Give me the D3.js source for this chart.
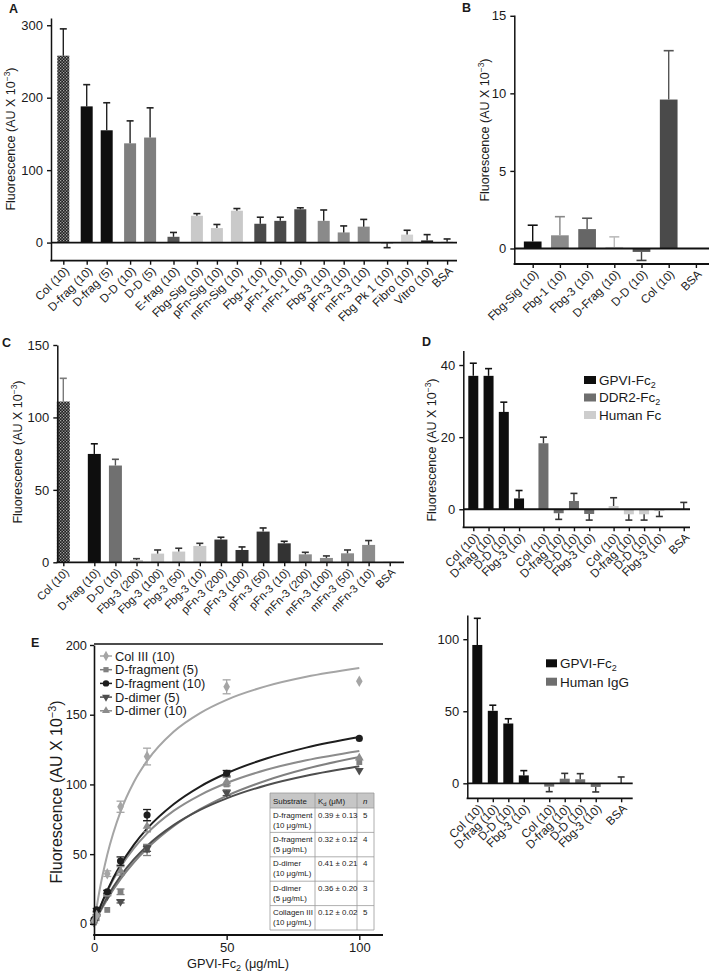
<!DOCTYPE html>
<html><head><meta charset="utf-8">
<script src="https://cdn.jsdelivr.net/npm/d3@7"></script>
<style>
body{margin:0;background:#fff}
svg{display:block}
text{font-family:"Liberation Sans",Arial,Helvetica,sans-serif;fill:#1a1a1a}
</style>
</head><body>
<svg id="c" width="709" height="974"></svg>
<script>
// ---------- Panel A data ----------
const aCategories = ["Col (10)","D-frag (10)","D-frag (5)","D-D (10)","D-D (5)","E-frag (10)","Fbg-Sig (10)","pFn-Sig (10)","mFn-Sig (10)","Fbg-1 (10)","pFn-1 (10)","mFn-1 (10)","Fbg-3 (10)","pFn-3 (10)","mFn-3 (10)","Fbg Pk 1 (10)","Fibro (10)","Vitro (10)","BSA"];
const aGroups = [0,1,1,2,2,3,4,4,4,5,5,5,6,6,6,7,7,7,7];
const aValues = [258,188,155,137,145,8,37,20,44,26,30,46,30,14,22,-1,11,3,1];
const aErrors = [37,30,38,31,41,6,3,5,3,9,5,2,15,9,10,6,6,8,4];
const aTicks = [0,100,200,300];
// ---------- Panel B data ----------
const bCategories = ["Fbg-Sig (10)","Fbg-1 (10)","Fbg-3 (10)","D-Frag (10)","D-D (10)","Col (10)","BSA"];
const bGroups = [0,0,0,0,0,0,0];
const bValues = [0.45,0.85,1.25,0.1,-0.22,9.6,0];
const bErrors = [1.05,1.2,0.7,0.65,0.55,3.15,0];
const bTicks = [0,5,10,15];
// ---------- Panel C data ----------
const cCategories = ["Col (10)","D-frag (10)","D-D (10)","Fbg-3 (200)","Fbg-3 (100)","Fbg-3 (50)","Fbg-3 (10)","pFn-3 (200)","pFn-3 (100)","pFn-3 (50)","pFn-3 (10)","mFn-3 (200)","mFn-3 (100)","mFn-3 (50)","mFn-3 (10)","BSA"];
const cGroups = [0,1,1,1,1,1,1,1,1,1,1,1,1,1,1,1];
const cValues = [111,74.8,66.8,1.6,6,7.4,11.3,15.7,8.5,21.2,13.1,5.5,3,6.2,12,0.3];
const cErrors = [16,7,4.3,0.9,2.5,2.3,1.8,1.6,2.1,2.5,1.4,1.4,1.4,2.3,3,0];
const cTicks = [0,50,100,150];
// ---------- Panel D (top) data ----------
const dCategories = ["Col (10)","D-frag (10)","D-D (10)","Fbg-3 (10)","Col (10)","D-frag (10)","D-D (10)","Fbg-3 (10)","Col (10)","D-frag (10)","D-D (10)","Fbg-3 (10)","BSA"];
const dGroups = [0,0,0,0,1,1,1,1,2,2,2,2,3];
const dSeries = ["GPVI-Fc","DDR2-Fc","Human Fc"];
const dValues = [37,37,27,3,18.3,-1.1,2.3,-1.3,0.9,-1.4,-1.4,-0.5,0];
const dErrors = [3.5,2,2.7,2.2,1.7,1.7,2.1,1.7,2.3,1.6,1.6,1.5,1.9];
const dTicks = [0,20,40];
// ---------- Panel D (bottom) data ----------
const fCategories = ["Col (10)","D-frag (10)","D-D (10)","Fbg-3 (10)","Col (10)","D-frag (10)","D-D (10)","Fbg-3 (10)","BSA"];
const fGroups = [0,0,0,0,1,1,1,1,2];
const fSeries = ["GPVI-Fc","Human IgG"];
const fValues = [96,50.3,41.5,5.5,-2.3,3.2,2.8,-2.5,0];
const fErrors = [18.5,3.9,3.3,3.3,3.5,3.7,3.9,3.5,4.4];
const fTicks = [0,50,100];
// ---------- Panel E data ----------
const eX = [0,1,5,10,20,50,100];
const eSeries = ["Col III (10)","D-fragment (5)","D-fragment (10)","D-dimer (5)","D-dimer (10)"];
const eColIII = [2,6,36,84,120,170,174];
const eColIIIErr = [0,0,2,4,6,5,0];
const eDfrag5 = [1,4,10,23,53,100,116];
const eDfrag5Err = [0,0,0,2,4,0,0];
const eDfrag10 = [3,10,23,45,78,108,133];
const eDfrag10Err = [0,1,1,3,4,2,0];
const eDdimer5 = [1,5,20,16,54,94,110];
const eDdimer5Err = [0,0,0,1,2,2,0];
const eDdimer10 = [2,7,22,38,70,102,119];
const eDdimer10Err = [0,1,2,3,4,3,0];
const eFitX = [0,2,5,10,15,20,30,40,50,65,80,100];
const eFitColIII = [0,23.0,49.5,80.5,101.6,116.9,137.8,151.2,160.7,170.5,177.2,183.5];
const eFitDfrag5 = [0,7.5,17.7,32.1,44.0,54.0,70.0,82.2,91.8,102.8,111.2,119.6];
const eFitDfrag10 = [0,10.5,24.0,42.3,56.7,68.3,85.8,98.5,108.0,118.6,126.4,134.0];
const eFitDdimer5 = [0,8.4,19.3,34.3,46.2,55.9,70.8,81.7,90.0,99.4,106.2,113.0];
const eFitDdimer10 = [0,10.2,23.3,40.7,54.1,64.9,81.0,92.4,101.0,110.5,117.3,124.0];
const eXTicks = [0,50,100];
const eYTicks = [0,50,100,150,200];
// ---------- Table ----------
const tSubstrate = [["D-fragment","(10 μg/mL)"],["D-fragment","(5 μg/mL)"],["D-dimer","(10 μg/mL)"],["D-dimer","(5 μg/mL)"],["Collagen III","(10 μg/mL)"]];
const tKd = ["0.39 ± 0.13","0.32 ± 0.12","0.41 ± 0.21","0.36 ± 0.20","0.12 ± 0.02"];
const tN = ["5","4","4","3","5"];

// ---------- styles ----------
const aFills = ["url(#chk)","#0e0e0e","#0e0e0e","#7f7f7f","#7f7f7f","#555","#c9c9c9","#c9c9c9","#c9c9c9","#4b4b4b","#4b4b4b","#4b4b4b","#8a8a8a","#8a8a8a","#8a8a8a","#555","#d2d2d2","#1e1e1e","#888"];
const aErrCol = aFills.map(()=>"#222");
const bFills = ["#0e0e0e","#8a8a8a","#666","#d0d0d0","#555","#4a4a4a","#888"];
const bErrCol = ["#111","#888","#555","#bbb","#444","#555","#555"];
const cFills = ["url(#chk)","#0e0e0e","#707070","#c9c9c9","#c9c9c9","#c9c9c9","#c9c9c9","#333","#333","#333","#333","#8c8c8c","#8c8c8c","#8c8c8c","#8c8c8c","#888"];
const cErrCol = ["#7a7a7a","#111","#555","#444","#333","#333","#333","#222","#222","#222","#222","#333","#333","#333","#333","#333"];
const dSeriesFill = ["#0e0e0e","#6e6e6e","#cdcdcd","#888"];
const fSeriesFill = ["#0e0e0e","#6e6e6e","#888"];

const svg = d3.select("#c");
const defs = svg.append("defs");
const pat = defs.append("pattern").attr("id","chk").attr("width",3).attr("height",3).attr("patternUnits","userSpaceOnUse");
pat.append("rect").attr("width",3).attr("height",3).attr("fill","#1c1c1c");
pat.append("rect").attr("width",1.3).attr("height",1.3).attr("fill","#a5a5a5");
pat.append("rect").attr("x",1.5).attr("y",1.5).attr("width",1.3).attr("height",1.3).attr("fill","#a5a5a5");

function yTitle(x, y, size){
  const t = svg.append("text").attr("transform",`translate(${x},${y}) rotate(-90)`)
    .attr("text-anchor","middle").attr("font-size",size);
  t.append("tspan").text("Fluorescence (AU X 10");
  t.append("tspan").attr("font-size",size*0.68).attr("dy",-size*0.4).text("−3");
  t.append("tspan").attr("dy",size*0.4).text(")");
}
function letter(s,x,y){ svg.append("text").attr("x",x).attr("y",y).attr("font-size",12.5).attr("font-weight","bold").text(s); }

function barPanel(o){
  const g = svg.append("g");
  const slots = o.cats.map((c,i)=> i + o.gap*o.groups[i]);
  const x = d3.scaleLinear().domain([0,1]).range([o.x0,o.x0+o.step]);
  const y = d3.scaleLinear().domain(o.yDomain).range(o.yRange);
  const y0 = y(0);
  g.selectAll("rect.bar").data(o.values).join("rect")
    .attr("x",(d,i)=>x(slots[i])-o.barW/2).attr("width",o.barW)
    .attr("y",d=>y(Math.max(0,d))).attr("height",d=>Math.abs(y(d)-y0))
    .attr("fill",(d,i)=>o.fills[i]);
  const eg = g.append("g");
  o.values.forEach((v,i)=>{
    const e = o.errors[i]; if(!e) return;
    const end = v>=0 ? v+e : v-e;
    const cx = x(slots[i]);
    eg.append("line").attr("x1",cx).attr("x2",cx).attr("y1",y(v)).attr("y2",y(end))
      .attr("stroke",o.errCol[i]).attr("stroke-width",1.4);
    eg.append("line").attr("x1",cx-o.capW/2).attr("x2",cx+o.capW/2).attr("y1",y(end)).attr("y2",y(end))
      .attr("stroke",o.errCol[i]).attr("stroke-width",1.6);
  });
  const bottomY = y(o.yDomain[0]);
  if (o.yDomain[0] < 0){
    g.append("line").attr("x1",o.axisX).attr("x2",o.rightX).attr("y1",y0).attr("y2",y0)
      .attr("stroke","#111").attr("stroke-width",1.8);
  }
  const ya = g.append("g").attr("transform",`translate(${o.axisX},0)`)
    .call(d3.axisLeft(y).tickValues(o.ticks).tickSize(4).tickSizeOuter(0).tickPadding(4).tickFormat(d3.format("d")));
  ya.select(".domain").attr("stroke","#111").attr("stroke-width",1.5);
  ya.selectAll(".tick line").attr("stroke","#111").attr("stroke-width",1.4);
  ya.selectAll("text").attr("font-size",o.tickFont).attr("fill","#1a1a1a").style("font-family",'"Liberation Sans",Arial,sans-serif');
  g.append("line").attr("x1",o.axisX-0.7).attr("x2",o.rightX).attr("y1",bottomY).attr("y2",bottomY)
    .attr("stroke","#111").attr("stroke-width",1.8);
  const xa = g.append("g").attr("transform",`translate(0,${bottomY})`)
    .call(d3.axisBottom(x).tickValues(slots).tickSize(4).tickSizeOuter(0).tickFormat(""));
  xa.select(".domain").remove();
  xa.selectAll(".tick line").attr("stroke","#111").attr("stroke-width",1.4);
  slots.forEach((s,i)=>{
    g.append("text").attr("transform",`translate(${x(s)+3.5},${bottomY+8}) rotate(-45)`)
      .attr("text-anchor","end").attr("dy","0.35em").attr("font-size",o.labelFont).text(o.cats[i]);
  });
  return {x,y,slots};
}

// ---------- Panel A ----------
letter("A",9,13);
barPanel({cats:aCategories,groups:aGroups,values:aValues,errors:aErrors,fills:aFills,errCol:aErrCol,
  x0:63.3,step:20,gap:0.17,barW:12,capW:7,yDomain:[-25,310],yRange:[260.7,18],ticks:aTicks,
  axisX:51,rightX:457,tickFont:13,labelFont:11.8});
yTitle(15,139,12.5);

// ---------- Panel B ----------
letter("B",462,12);
barPanel({cats:bCategories,groups:bGroups,values:bValues,errors:bErrors,fills:bFills,errCol:bErrCol,
  x0:532.7,step:27.2,gap:0,barW:17.7,capW:10,yDomain:[-1,15.05],yRange:[264,15],ticks:bTicks,
  axisX:514.3,rightX:709,tickFont:13,labelFont:11.8});
yTitle(489,130,12.5);

// ---------- Panel C ----------
letter("C",2,347);
barPanel({cats:cCategories,groups:cGroups,values:cValues,errors:cErrors,fills:cFills,errCol:cErrCol,
  x0:63.3,step:21.1,gap:0.47,barW:13,capW:7,yDomain:[0,150],yRange:[562.3,345],ticks:cTicks,
  axisX:57.3,rightX:404,tickFont:13,labelFont:11.2});
yTitle(22,452,12.5);

// ---------- Panel D top ----------
letter("D",422,346);
const dFills = dGroups.map(gi=>dSeriesFill[gi]);
const dErrCol = dGroups.map(gi=>gi===0?"#111":"#333");
barPanel({cats:dCategories,groups:dGroups,values:dValues,errors:dErrors,fills:dFills,errCol:dErrCol,
  x0:473.3,step:15.25,gap:0.6,barW:10,capW:7,yDomain:[-5,44],yRange:[527.3,350.6],ticks:dTicks,
  axisX:463.3,rightX:690,tickFont:13,labelFont:11.8});
yTitle(436,450,12.5);
function legend(items, fills, x, y0, dy, sw, sh){
  items.forEach((s,i)=>{
    const cy = y0 + i*dy;
    svg.append("rect").attr("x",x).attr("y",cy-sh/2).attr("width",sw).attr("height",sh).attr("fill",fills[i]);
    const t = svg.append("text").attr("x",x+sw+3).attr("y",cy).attr("dy","0.36em").attr("font-size",13.5);
    if (s.endsWith("-Fc")){ t.append("tspan").text(s); t.append("tspan").attr("font-size",9).attr("dy",3).text("2"); }
    else t.text(s);
  });
}
legend(dSeries, dSeriesFill, 584, 380, 17.5, 12, 8);

// ---------- Panel D bottom ----------
const fFills = fGroups.map(gi=>fSeriesFill[gi]);
const fErrCol = fGroups.map(gi=>gi===0?"#111":"#333");
barPanel({cats:fCategories,groups:fGroups,values:fValues,errors:fErrors,fills:fFills,errCol:fErrCol,
  x0:477.3,step:15.5,gap:0.64,barW:10,capW:7,yDomain:[-10.4,116.8],yRange:[798.3,615],ticks:fTicks,
  axisX:467.3,rightX:632.7,tickFont:13,labelFont:11.8});
legend(fSeries, fSeriesFill, 546, 663.3, 18.4, 11, 8);

// ---------- Panel E ----------
letter("E",31,647);
const ex = d3.scaleLinear().domain([0,100]).range([94,359.3]);
const ey = d3.scaleLinear().domain([-8,200]).range([935,645]);
const eRight = 383;
const eg = svg.append("g");
eg.append("line").attr("x1",94).attr("x2",eRight).attr("y1",644).attr("y2",644).attr("stroke","#111").attr("stroke-width",1.6);
const eColors = ["#a5a5a5","#808080","#1e1e1e","#4e4e4e","#8c8c8c"];
const eSyms = [d3.symbolDiamond, d3.symbolSquare, d3.symbolCircle, d3.symbolTriangle, d3.symbolTriangle];
const eRot = [0,0,0,180,0];
const eSizes = [38,34,40,34,34];
const eData = [eColIII,eDfrag5,eDfrag10,eDdimer5,eDdimer10];
const eErr = [eColIIIErr,eDfrag5Err,eDfrag10Err,eDdimer5Err,eDdimer10Err];
const eFits = [eFitColIII,eFitDfrag5,eFitDfrag10,eFitDdimer5,eFitDdimer10];
const line = d3.line().x((d,i)=>ex(eFitX[i])).y(d=>ey(d)).curve(d3.curveMonotoneX);
const drawOrder = [1,3,4,2,0];
drawOrder.forEach(k=>{
  eg.append("path").attr("d",line(eFits[k])).attr("fill","none").attr("stroke",eColors[k]).attr("stroke-width",2);
});
drawOrder.forEach(k=>{
  eData[k].forEach((v,i)=>{
    const cx = ex(eX[i]), e = eErr[k][i];
    if (e){
      const lo = v-e, hi = v+e;
      eg.append("line").attr("x1",cx).attr("x2",cx).attr("y1",ey(lo)).attr("y2",ey(hi)).attr("stroke",eColors[k]).attr("stroke-width",1.2);
      [lo,hi].forEach(yy=>eg.append("line").attr("x1",cx-4).attr("x2",cx+4).attr("y1",ey(yy)).attr("y2",ey(yy)).attr("stroke",eColors[k]).attr("stroke-width",1.3));
    }
    eg.append("path").attr("d",d3.symbol(eSyms[k],eSizes[k])())
      .attr("transform",`translate(${cx},${ey(v)}) rotate(${eRot[k]})`).attr("fill",eColors[k]);
  });
});
const eya = eg.append("g").attr("transform","translate(94,0)")
  .call(d3.axisLeft(ey).tickValues(eYTicks).tickSize(4).tickSizeOuter(0).tickPadding(3));
eya.select(".domain").attr("stroke","#111").attr("stroke-width",1.6);
eya.selectAll(".tick line").attr("stroke","#111").attr("stroke-width",1.4);
eya.selectAll("text").attr("font-size",12.8).attr("fill","#1a1a1a").style("font-family",'"Liberation Sans",Arial,sans-serif');
eg.append("line").attr("x1",93.2).attr("x2",eRight).attr("y1",935).attr("y2",935).attr("stroke","#111").attr("stroke-width",1.8);
const exa = eg.append("g").attr("transform","translate(0,935)")
  .call(d3.axisBottom(ex).tickValues(eXTicks).tickSize(5).tickSizeOuter(0).tickPadding(3));
exa.select(".domain").remove();
exa.selectAll(".tick line").attr("stroke","#111").attr("stroke-width",1.4);
exa.selectAll("text").attr("font-size",13).attr("fill","#1a1a1a").style("font-family",'"Liberation Sans",Arial,sans-serif');
yTitle(62,792,16);
const xl = svg.append("text").attr("x",238).attr("y",968).attr("text-anchor","middle").attr("font-size",12.8);
xl.append("tspan").text("GPVI-Fc");
xl.append("tspan").attr("font-size",9).attr("dy",3).text("2");
xl.append("tspan").attr("dy",-3).text(" (μg/mL)");
eSeries.forEach((s,k)=>{
  const cy = 656 + k*13.7;
  svg.append("line").attr("x1",100).attr("x2",112).attr("y1",cy).attr("y2",cy).attr("stroke",eColors[k]).attr("stroke-width",1.5);
  svg.append("path").attr("d",d3.symbol(eSyms[k],eSizes[k]*0.8)()).attr("transform",`translate(106,${cy}) rotate(${eRot[k]})`).attr("fill",eColors[k]);
  svg.append("text").attr("x",115).attr("y",cy).attr("dy","0.36em").attr("font-size",12.8).text(s);
});
// table
const tx = 270, ty = 793, cw = [45,42,17], hh = 15, rh = 24.4;
const tg = svg.append("g");
const totW = d3.sum(cw);
tg.append("rect").attr("x",tx).attr("y",ty).attr("width",totW).attr("height",hh).attr("fill","#c6c6c6");
tg.append("rect").attr("x",tx).attr("y",ty+hh).attr("width",totW).attr("height",rh*5).attr("fill","#fff");
const colX = [tx, tx+cw[0], tx+cw[0]+cw[1], tx+totW];
colX.forEach(cx=>tg.append("line").attr("x1",cx).attr("x2",cx).attr("y1",ty).attr("y2",ty+hh+rh*5).attr("stroke","#9a9a9a").attr("stroke-width",0.8));
[ty, ty+hh, ...d3.range(1,6).map(r=>ty+hh+r*rh)].forEach(yy=>tg.append("line").attr("x1",tx).attr("x2",tx+totW).attr("y1",yy).attr("y2",yy).attr("stroke","#9a9a9a").attr("stroke-width",0.8));
const fs = 7.9;
tg.append("text").attr("x",tx+3).attr("y",ty+10.5).attr("font-size",fs).text("Substrate");
const kh = tg.append("text").attr("x",colX[1]+3).attr("y",ty+10.5).attr("font-size",fs);
kh.append("tspan").text("K"); kh.append("tspan").attr("font-size",5.8).attr("dy",2).text("d"); kh.append("tspan").attr("dy",-2).text(" (μM)");
tg.append("text").attr("x",colX[2]+6).attr("y",ty+10.5).attr("font-size",fs).attr("font-style","italic").text("n");
tSubstrate.forEach((s,r)=>{
  const yy = ty+hh+r*rh;
  tg.append("text").attr("x",tx+3).attr("y",yy+9.5).attr("font-size",fs).text(s[0]);
  tg.append("text").attr("x",tx+3).attr("y",yy+19.5).attr("font-size",fs).text(s[1]);
  tg.append("text").attr("x",colX[1]+3).attr("y",yy+9.5).attr("font-size",fs).text(tKd[r]);
  tg.append("text").attr("x",colX[2]+6).attr("y",yy+9.5).attr("font-size",fs).text(tN[r]);
});
</script>
</body></html>
